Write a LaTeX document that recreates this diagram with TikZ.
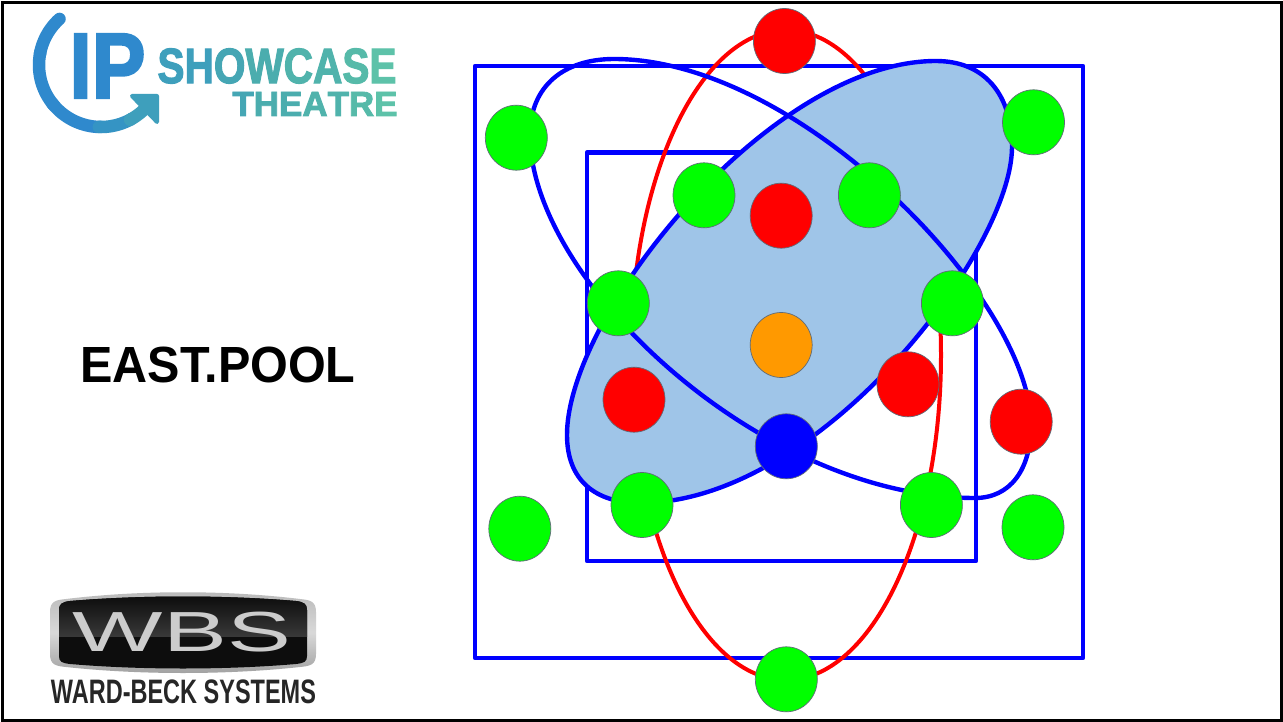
\documentclass[tikz,border=0pt]{standalone}
\usepackage{graphicx}
\usepackage{fontspec}
\setmainfont{Liberation Sans}
\newfontfamily\heavyfont[FakeBold=2.5]{Liberation Sans Bold}
\usetikzlibrary{shapes.geometric}
\definecolor{lineblue}{HTML}{0000FF}
\definecolor{linered}{HTML}{FF0000}
\definecolor{dotgreen}{HTML}{00FF00}
\definecolor{dotorange}{HTML}{FF9900}
\definecolor{poolfill}{HTML}{9FC5E8}
\definecolor{dotedge}{HTML}{5F6B78}
\definecolor{lgA}{HTML}{2F89CD}
\definecolor{lgB}{HTML}{3594C4}
\definecolor{lgC}{HTML}{3E9FBC}
\definecolor{lgD}{HTML}{45A6B4}
\definecolor{lgE}{HTML}{4BADAE}
\definecolor{lgF}{HTML}{50B3AC}
\definecolor{lgG}{HTML}{56BAA9}
\definecolor{lgH}{HTML}{5DC2A9}
\tikzset{
  dot/.style={ellipse,draw=dotedge,line width=0.7pt,minimum width=62pt,minimum height=65pt,inner sep=0pt},
  redot/.style={dot,fill=linered},
  greendot/.style={dot,fill=dotgreen},
  orangedot/.style={dot,fill=dotorange},
  bluedot/.style={dot,fill=lineblue},
  bluebox/.style={draw=lineblue,line width=4.4pt,line join=round},
  bluecurve/.style={draw=lineblue,line width=4.4pt},
  redcurve/.style={draw=linered,line width=4pt},
  logotext/.style={inner sep=0pt,outer sep=0pt,anchor=center}
}
\newcommand{\fitbox}[3]{\resizebox*{#1pt}{#2pt}{#3}}
\begin{document}
\begin{tikzpicture}[x=1pt,y=-1pt]
\useasboundingbox (0,0) rectangle (1283,722);
\fill[white] (0,0) rectangle (1283,722);
\draw[black,line width=3pt] (2.5,2.5) rectangle (1281,720);

% logo: IP Showcase Theatre
\foreach \a/\b/\c in {132/170/lgA,168/220/lgA,218/270/lgA,268/300/lgB,298/316/lgC}{
  \draw[\c,line width=12.5pt,line cap=round] plot[domain=\a:\b,samples=20,smooth] ({101+62*cos(\x)},{65-62*sin(\x)});
}
\fill[lgC,draw=lgC,line width=4pt,line join=round] (132,96) -- (157,96) -- (157,122) -- cycle;
\node[logotext,text=lgA] (logoip) at (107.5,66) {\fitbox{76}{64}{\heavyfont IP}};
\node[logotext] (logoshow) at (277,66) {\fitbox{239}{35}{\heavyfont
  \textcolor{lgC}{S}\textcolor{lgC}{H}\textcolor{lgD}{O}\textcolor{lgE}{W}\textcolor{lgF}{C}\textcolor{lgF}{A}\textcolor{lgG}{S}\textcolor{lgH}{E}}};
\node[logotext] (logotheatre) at (315,104) {\fitbox{165}{24}{\heavyfont
  \textcolor{lgD}{T}\textcolor{lgE}{H}\textcolor{lgE}{E}\textcolor{lgF}{A}\textcolor{lgF}{T}\textcolor{lgG}{R}\textcolor{lgH}{E}}};

% title
\node[logotext,text=black] (title) at (218,365) {\fitbox{275}{36}{\textbf{EAST.POOL}}};

% logo: WBS
\path[top color=gray!55,bottom color=gray!75,middle color=white!85!black]
  (50,612) .. controls (50,601) and (56,600) .. (66,599) .. controls (140,590) and (226,590) .. (300,599)
  .. controls (310,600) and (316,601) .. (316,612) -- (316,654) .. controls (316,665) and (310,666) .. (300,667)
  .. controls (226,675) and (140,675) .. (66,667) .. controls (56,666) and (50,665) .. (50,654) -- cycle;
\begin{scope}
\clip (59,610) .. controls (59,604) and (62,602) .. (70,601) .. controls (140,595) and (226,595) .. (296,601)
  .. controls (304,602) and (307,604) .. (307,610) -- (307,656) .. controls (307,662) and (304,663) .. (296,664)
  .. controls (226,670) and (140,670) .. (70,664) .. controls (62,663) and (59,662) .. (59,656) -- cycle;
\fill[black!95] (50,590) rectangle (316,680);
\shade[top color=black!95,bottom color=black!78] (50,596) rectangle (316,636);
\end{scope}
\node[logotext,text=black!20] (logowbs) at (182,632) {\fitbox{218}{40}{WBS}};
\node[logotext,text=black!85] (logoward) at (183.5,691.5) {\fitbox{265}{24}{\textbf{WARD-BECK SYSTEMS}}};

% diagram
\draw[bluebox] (475,66) rectangle (1083,658);
\draw[bluebox] (587,152.5) rectangle (976,561);
\draw[redcurve] (786,355) ellipse[x radius=155,y radius=325];
\path[fill=poolfill,draw=lineblue,line width=4.4pt]
  (936,61) .. controls (985,61) and (1012,95) .. (1012,147)
  .. controls (1012,250) and (820,503) .. (640,503)
  .. controls (595,503) and (567,480) .. (567,435)
  .. controls (567,315) and (770,61) .. (936,61) -- cycle;
\path[bluecurve]
  (614,59) .. controls (800,59) and (1031,300) .. (1031,425)
  .. controls (1031,470) and (1010,498) .. (975,498)
  .. controls (760,498) and (530,280) .. (530,135)
  .. controls (530,85) and (565,59) .. (614,59) -- cycle;

\node[redot] (r1) at (784.4,41) {};
\node[greendot] (g1) at (516.3,137.7) {};
\node[greendot] (g2) at (1033.5,122.3) {};
\node[greendot] (g3) at (704,195.3) {};
\node[greendot] (g4) at (869.4,195.3) {};
\node[redot] (r2) at (781.2,215.7) {};
\node[greendot] (g5) at (618.3,303.3) {};
\node[greendot] (g6) at (952.4,303.3) {};
\node[orangedot] (o1) at (781.2,345) {};
\node[redot] (r3) at (634,399.7) {};
\node[redot] (r4) at (908,384.3) {};
\node[redot] (r5) at (1021.2,421.7) {};
\node[bluedot] (b1) at (786.3,446.3) {};
\node[greendot] (g7) at (642,505) {};
\node[greendot] (g8) at (931.4,505) {};
\node[greendot] (g9) at (519.8,528.7) {};
\node[greendot] (g10) at (1033,527.3) {};
\node[greendot] (g11) at (786.3,679.3) {};
\end{tikzpicture}
\end{document}
